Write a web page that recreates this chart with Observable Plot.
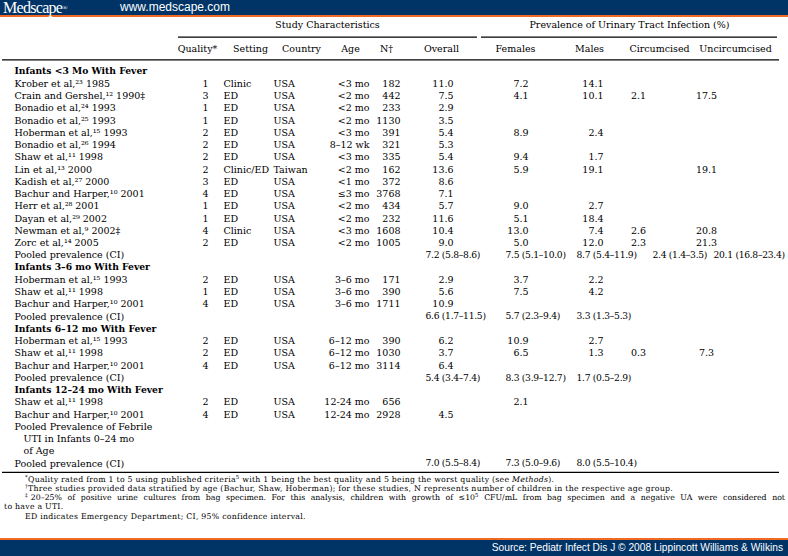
<!DOCTYPE html>
<html><head><meta charset="utf-8">
<script src="https://cdn.jsdelivr.net/npm/d3@7"></script>
<script src="https://cdn.jsdelivr.net/npm/@observablehq/plot@0.6"></script>
<style>
body{margin:0;background:#fff;}
#page{position:relative;width:788px;height:556px;overflow:hidden;background:#fff;}
#top{position:absolute;left:0;top:0;width:788px;height:15px;background:#003366;border-bottom:2px solid #f26a21;}
#logo{position:absolute;left:3px;top:0;font-family:"Liberation Serif",serif;font-size:16px;color:#fff;letter-spacing:-0.7px;line-height:15px;}
#logo sup{font-size:7px;vertical-align:3px;letter-spacing:0;line-height:0;}
#url{position:absolute;left:120px;top:0px;font-family:"Liberation Sans",sans-serif;font-size:12px;color:#fff;line-height:15px;}
#chart{position:absolute;left:0;top:17px;}
#notes{position:absolute;left:0;top:0;font-family:"DejaVu Serif",serif;font-size:7.8px;color:#000;}
#notes div{position:absolute;white-space:nowrap;line-height:9px;letter-spacing:0.25px;}
#notes div.just{white-space:normal;text-align:justify;text-align-last:justify;width:760px;letter-spacing:0;}
#notes sup{font-size:0.7em;line-height:0;vertical-align:0.5em;}
#bottom{position:absolute;left:0;top:538px;width:788px;height:16px;background:#003366;border-top:2px solid #f26a21;}
#source{position:absolute;right:5px;top:2px;font-family:"Liberation Sans",sans-serif;font-size:10.2px;color:#fff;line-height:12px;}
</style></head>
<body><div id="page">
<div id="top"><div id="logo">Medscape<sup>®</sup></div><div id="url">www.medscape.com</div></div>
<div id="chart"></div>
<div id="notes"></div>
<div id="bottom"><div id="source">Source: Pediatr Infect Dis J © 2008 Lippincott Williams &amp; Wilkins</div></div>
</div>
<script>
// ---------- DATA ----------
const groupHeaders = ["Study Characteristics", "Prevalence of Urinary Tract Infection (%)"];
const columnHeaders = ["Quality*", "Setting", "Country", "Age", "N†", "Overall", "Females", "Males", "Circumcised", "Uncircumcised"];

const rowLabels = [
  "Infants <3 Mo With Fever",
  "Krober et al,²³ 1985",
  "Crain and Gershel,¹² 1990‡",
  "Bonadio et al,²⁴ 1993",
  "Bonadio et al,²⁵ 1993",
  "Hoberman et al,¹⁵ 1993",
  "Bonadio et al,²⁶ 1994",
  "Shaw et al,¹¹ 1998",
  "Lin et al,¹³ 2000",
  "Kadish et al,²⁷ 2000",
  "Bachur and Harper,¹⁰ 2001",
  "Herr et al,²⁸ 2001",
  "Dayan et al,²⁹ 2002",
  "Newman et al,⁹ 2002‡",
  "Zorc et al,¹⁴ 2005",
  "Pooled prevalence (CI)",
  "Infants 3–6 mo With Fever",
  "Hoberman et al,¹⁵ 1993",
  "Shaw et al,¹¹ 1998",
  "Bachur and Harper,¹⁰ 2001",
  "Pooled prevalence (CI)",
  "Infants 6–12 mo With Fever",
  "Hoberman et al,¹⁵ 1993",
  "Shaw et al,¹¹ 1998",
  "Bachur and Harper,¹⁰ 2001",
  "Pooled prevalence (CI)",
  "Infants 12–24 mo With Fever",
  "Shaw et al,¹¹ 1998",
  "Bachur and Harper,¹⁰ 2001",
  "Pooled Prevalence of Febrile",
  "UTI in Infants 0–24 mo",
  "of Age",
  "Pooled prevalence (CI)"
];
const rowKind = [
  "section","study","study","study","study","study","study","study","study","study","study","study","study","study","study","pooled",
  "section","study","study","study","pooled",
  "section","study","study","study","pooled",
  "section","study","study","label","indent","indent","pooled"
];
const quality = [null,1,3,1,1,2,2,2,2,3,4,1,1,4,2,null, null,2,1,4,null, null,2,2,4,null, null,2,4,null,null,null,null];
const setting = [null,"Clinic","ED","ED","ED","ED","ED","ED","Clinic/ED","ED","ED","ED","ED","Clinic","ED",null,
  null,"ED","ED","ED",null, null,"ED","ED","ED",null, null,"ED","ED",null,null,null,null];
const country = [null,"USA","USA","USA","USA","USA","USA","USA","Taiwan","USA","USA","USA","USA","USA","USA",null,
  null,"USA","USA","USA",null, null,"USA","USA","USA",null, null,"USA","USA",null,null,null,null];
const ageGroup = [null,"<3 mo","<2 mo","<2 mo","<2 mo","<3 mo","8–12 wk","<3 mo","<2 mo","<1 mo","≤3 mo","<2 mo","<2 mo","<3 mo","<2 mo",null,
  null,"3–6 mo","3–6 mo","3–6 mo",null, null,"6–12 mo","6–12 mo","6–12 mo",null, null,"12-24 mo","12-24 mo",null,null,null,null];
const nChildren = [null,182,442,233,1130,391,321,335,162,372,3768,434,232,1608,1005,null,
  null,171,390,1711,null, null,390,1030,3114,null, null,656,2928,null,null,null,null];
const overall = [null,11.0,7.5,2.9,3.5,5.4,5.3,5.4,13.6,8.6,7.1,5.7,11.6,10.4,9.0,null,
  null,2.9,5.6,10.9,null, null,6.2,3.7,6.4,null, null,null,4.5,null,null,null,null];
const females = [null,7.2,4.1,null,null,8.9,null,9.4,5.9,null,null,9.0,5.1,13.0,5.0,null,
  null,3.7,7.5,null,null, null,10.9,6.5,null,null, null,2.1,null,null,null,null,null];
const males = [null,14.1,10.1,null,null,2.4,null,1.7,19.1,null,null,2.7,18.4,7.4,12.0,null,
  null,2.2,4.2,null,null, null,2.7,1.3,null,null, null,null,null,null,null,null,null];
const circumcised = [null,null,2.1,null,null,null,null,null,null,null,null,null,null,2.6,2.3,null,
  null,null,null,null,null, null,null,0.3,null,null, null,null,null,null,null,null,null];
const uncircumcised = [null,null,17.5,null,null,null,null,null,19.1,null,null,null,null,20.8,21.3,null,
  null,null,null,null,null, null,null,7.3,null,null, null,null,null,null,null,null,null];

// pooled prevalence rows: [estimate, lower, upper]
const pooledRows = [15, 20, 25, 32];
const pooledOverall = [[7.2,5.8,8.6],[6.6,1.7,11.5],[5.4,3.4,7.4],[7.0,5.5,8.4]];
const pooledFemales = [[7.5,5.1,10.0],[5.7,2.3,9.4],[8.3,3.9,12.7],[7.3,5.0,9.6]];
const pooledMales = [[8.7,5.4,11.9],[3.3,1.3,5.3],[1.7,0.5,2.9],[8.0,5.5,10.4]];
const pooledCircumcised = [[2.4,1.4,3.5],null,null,null];
const pooledUncircumcised = [[20.1,16.8,23.4],null,null,null];

const footnotes = [
  "<sup>*</sup>Quality rated from 1 to 5 using published criteria<sup>5</sup> with 1 being the best quality and 5 being the worst quality (see <i>Methods</i>).",
  "<sup>†</sup>Three studies provided data stratified by age (Bachur, Shaw, Hoberman); for these studies, N represents number of children in the respective age group.",
  "<sup>‡</sup>20–25% of positive urine cultures from bag specimen. For this analysis, children with growth of ≤10<sup>5</sup> CFU/mL from bag specimen and a negative UA were considered not",
  "to have a UTI.",
  "ED indicates Emergency Department; CI, 95% confidence interval."
];

// ---------- LAYOUT ----------
const colX = {label:14, indent:23, quality:205, setting:223, country:273, age:369, n:400,
  overall:453, females:528, males:603, circ:638, uncirc:706};
const ciX = {overall:425, females:505, males:576, circ:652, uncirc:713};
const headerX = [197, 250, 301, 350, 386, 441, 515, 589, 659, 735];
const groupX = [327, 629];
const groupLine = [[178, 477], [481, 777]];
const yTitle = -3.76, yGroupLine = -2.8, yHeader = -1.85, yRuleTop = -0.955, yRuleBottom = 32.73;

const fmt = d3.format(".1f");
const ci = v => `${fmt(v[0])} (${fmt(v[1])}–${fmt(v[2])})`;
const rows = d3.range(rowLabels.length);
const has = arr => rows.filter(i => arr[i] != null);
const FS = 9.5;

function col(arr, x, anchor, format = d => String(d)) {
  return Plot.text(has(arr), {x, y: i => i, text: i => format(arr[i]), textAnchor: anchor, fontSize: FS});
}
function pooledCol(arr, x) {
  const ks = d3.range(pooledRows.length).filter(k => arr[k]);
  return Plot.text(ks, {x, y: k => pooledRows[k], text: k => ci(arr[k]), textAnchor: "start", fontSize: 9.2});
}

const chart = Plot.plot({
  width: 788, height: 458,
  marginTop: 0, marginBottom: 0, marginLeft: 0, marginRight: 0,
  x: {type: "identity", axis: null},
  y: {type: "linear", domain: [0, 32], range: [54, 446], axis: null},
  style: {fontFamily: "'DejaVu Serif', serif", color: "#000", background: "transparent", overflow: "visible"},
  marks: [
    Plot.text(groupHeaders, {x: (d, i) => groupX[i], y: yTitle, text: d => d, fontSize: FS}),
    Plot.ruleY(groupHeaders, {y: yGroupLine, x1: (d, i) => groupLine[i][0], x2: (d, i) => groupLine[i][1], stroke: "#000", strokeWidth: 1.2}),
    Plot.text(columnHeaders, {x: (d, i) => headerX[i], y: yHeader, text: d => d, fontSize: FS}),
    Plot.ruleY([yRuleTop, yRuleBottom], {x1: 2, x2: 779, stroke: "#000", strokeWidth: 1.3}),
    Plot.text(rows.filter(i => rowKind[i] === "section"), {x: colX.label, y: i => i, text: i => rowLabels[i], textAnchor: "start", fontWeight: "bold", fontSize: 9.2}),
    Plot.text(rows.filter(i => rowKind[i] === "study" || rowKind[i] === "pooled" || rowKind[i] === "label"), {x: colX.label, y: i => i, text: i => rowLabels[i], textAnchor: "start", fontSize: FS}),
    Plot.text(rows.filter(i => rowKind[i] === "indent"), {x: colX.indent, y: i => i, text: i => rowLabels[i], textAnchor: "start", fontSize: FS}),
    col(quality, colX.quality, "middle"),
    col(setting, colX.setting, "start"),
    col(country, colX.country, "start"),
    col(ageGroup, colX.age, "end"),
    col(nChildren, colX.n, "end"),
    col(overall, colX.overall, "end", fmt),
    col(females, colX.females, "end", fmt),
    col(males, colX.males, "end", fmt),
    col(circumcised, colX.circ, "middle", fmt),
    col(uncircumcised, colX.uncirc, "middle", fmt),
    pooledCol(pooledOverall, ciX.overall),
    pooledCol(pooledFemales, ciX.females),
    pooledCol(pooledMales, ciX.males),
    pooledCol(pooledCircumcised, ciX.circ),
    pooledCol(pooledUncircumcised, ciX.uncirc)
  ]
});
// tighten the confidence-interval strings slightly
d3.select(chart).selectAll("text").filter(function() { return /\(.*–.*\)$/.test(this.textContent) && /^\d/.test(this.textContent); })
  .attr("letter-spacing", "-0.3");
document.getElementById("chart").appendChild(chart);

// footnotes below the table
const noteTop = [475, 484, 493, 502, 512];
const noteLeft = [25, 25, 25, 4, 25];
const notes = document.getElementById("notes");
footnotes.forEach((t, i) => {
  const d = document.createElement("div");
  d.style.top = noteTop[i] + "px";
  d.style.left = noteLeft[i] + "px";
  if (i === 2) d.className = "just";
  d.innerHTML = t;
  notes.appendChild(d);
});
</script>
</body></html>
